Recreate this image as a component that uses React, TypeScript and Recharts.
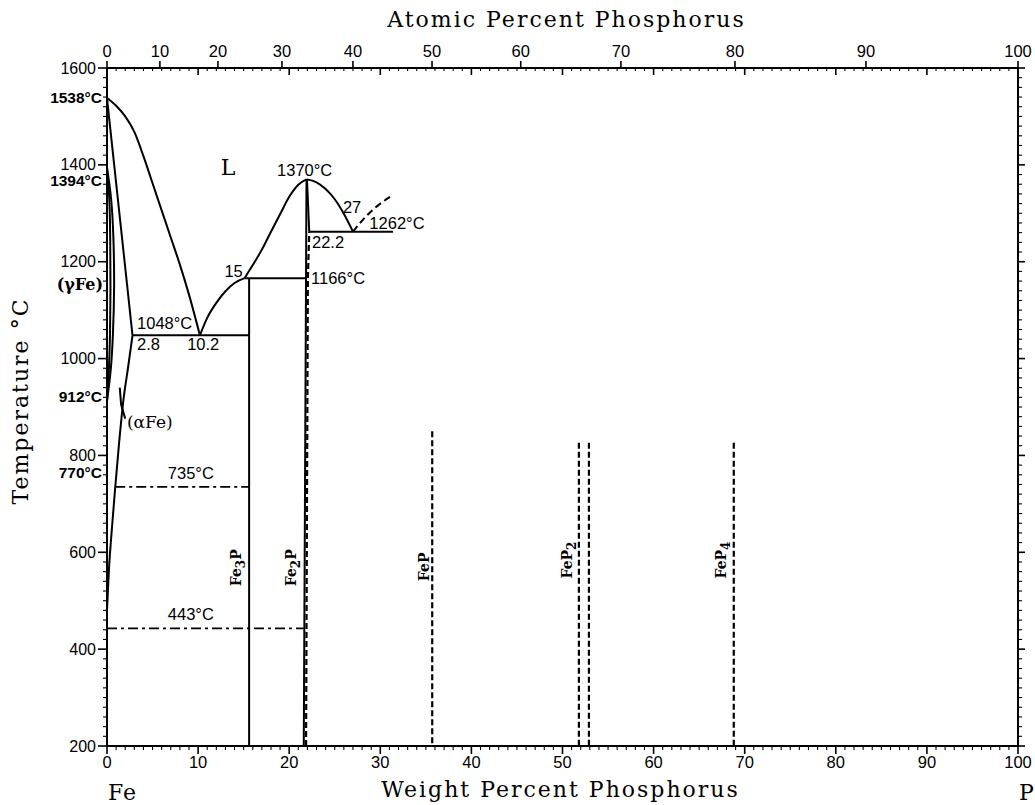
import React from 'react';
import { ComposedChart, Line, Scatter, XAxis, YAxis } from 'recharts';

// Fe-P phase diagram (wt% P, °C)
const LIQ_FE = [[0, 1538], [1, 1522], [2, 1500], [3, 1468], [4, 1418], [5, 1362], [6, 1306], [7, 1250], [8, 1194], [9, 1132], [10.2, 1048]];
const SOL_ALPHA = [[0, 1538], [2.8, 1048]];
const SOLVUS_ALPHA = [[0, 480], [0.2, 560], [0.5, 640], [0.88, 729], [1.3, 820], [1.8, 914], [2.3, 980], [2.8, 1048]];
const GAMMA_IN = [[0, 1394], [0.25, 1330], [0.35, 1250], [0.38, 1150], [0.33, 1050], [0.2, 975], [0, 912]];
const GAMMA_OUT = [[0, 1394], [0.45, 1330], [0.7, 1250], [0.78, 1150], [0.65, 1050], [0.4, 975], [0, 912]];
const LIQ_FE3P = [[10.2, 1048], [11, 1084], [12, 1115], [13, 1139], [14, 1156], [15.1, 1166]];
const LIQ_FE2P_L = [[15.1, 1166], [16, 1193], [17, 1225], [18, 1262], [19, 1298], [20, 1334], [21, 1359], [21.9, 1370]];
const LIQ_FE2P_R = [[21.9, 1370], [23, 1364], [24, 1350], [25, 1329], [26, 1299], [27, 1262]];
const LIQ_META = [[27, 1262], [28.5, 1295], [30, 1320], [31.4, 1338]];
const FE2P_L = [[21.9, 1370], [21.6, 200]];
const FE2P_R_TOP = [[21.95, 1370], [22.2, 1262]];
const FE2P_R_DASH = [[21.85, 200], [22.05, 1166], [22.2, 1262]];
const ISO_1262 = [[22.2, 1262], [31.4, 1262]];
const ISO_1166 = [[15.1, 1166], [21.85, 1166]];
const ISO_1048 = [[2.8, 1048], [15.6, 1048]];
const FE3P = [[15.6, 1166], [15.6, 200]];
const ISO_735 = [[0.9, 735], [15.6, 735]];
const ISO_443 = [[0, 443], [21.6, 443]];
const FEP = [[35.7, 850], [35.7, 200]];
const FEP2_A = [[51.8, 826], [51.8, 200]];
const FEP2_B = [[52.9, 826], [52.9, 200]];
const FEP4 = [[68.8, 826], [68.8, 200]];
const ALPHA_LEADER = [[1.4, 940], [1.55, 905], [2.0, 876]];

const SOLID_CURVES = [LIQ_FE, LIQ_FE3P, LIQ_FE2P_L, LIQ_FE2P_R, SOLVUS_ALPHA, GAMMA_IN, GAMMA_OUT];
const SOLID_SEGMENTS = [SOL_ALPHA, FE2P_L, FE2P_R_TOP, ISO_1262, ISO_1166, ISO_1048, FE3P, ALPHA_LEADER];
const DASHED_SEGMENTS = [FE2P_R_DASH, FEP, FEP2_A, FEP2_B, FEP4];
const DASHDOT_SEGMENTS = [ISO_735, ISO_443];

// tick labels
const WT_LABELS = [0, 10, 20, 30, 40, 50, 60, 70, 80, 90, 100];
const AT_LABELS = [0, 10, 20, 30, 40, 50, 60, 70, 80, 90, 100];
const T_LABELS = [200, 400, 600, 800, 1000, 1200, 1400, 1600];

// annotations (anchor in wt% / °C)
const AXIS_TEMPS = [
  { w: 0, t: 1538, text: '1538°C' },
  { w: 0, t: 1367, text: '1394°C' },
  { w: 0, t: 922, text: '912°C' },
  { w: 0, t: 765, text: '770°C' },
];
const GAMMA_NOTE = [{ w: 0, t: 1154, text: '(γFe)' }];
const START_NOTES = [
  { w: 3.3, t: 1073, text: '1048°C' },
  { w: 3.3, t: 1030, text: '2.8' },
  { w: 8.8, t: 1030, text: '10.2' },
  { w: 22.4, t: 1166, text: '1166°C' },
  { w: 22.5, t: 1241, text: '22.2' },
  { w: 28.8, t: 1280, text: '1262°C' },
  { w: 25.9, t: 1313, text: '27' },
];
const END_NOTES = [{ w: 14.9, t: 1181, text: '15' }];
const MID_NOTES = [
  { w: 21.7, t: 1389, text: '1370°C' },
  { w: 9.2, t: 764, text: '735°C' },
  { w: 9.2, t: 473, text: '443°C' },
];
const PHASE_NOTES = [
  { w: 13.3, t: 1394, text: 'L' },
  { w: 4.7, t: 869, text: '(αFe)' },
];
const COMPOUNDS = [
  { w: 14.7, t: 568, text: 'Fe_3P' },
  { w: 20.8, t: 568, text: 'Fe_2P' },
  { w: 35.3, t: 570, text: 'FeP' },
  { w: 51.0, t: 584, text: 'FeP_2' },
  { w: 68.0, t: 584, text: 'FeP_4' },
];

const M_FE = 55.845;
const M_P = 30.974;
const atToWt = (a: number) => (100 * a * M_P) / (a * M_P + (100 - a) * M_FE);
const AT_POS = AT_LABELS.map(atToWt);

const range = (a: number, b: number, s: number) => {
  const out: number[] = [];
  for (let v = a; v <= b + 1e-9; v += s) out.push(v);
  return out;
};
const WT_TICKS = range(0, 100, 1);
const TOP_TICKS = Array.from(new Set([...WT_TICKS, ...AT_POS])).sort((a, b) => a - b);
const T_TICKS = range(200, 1600, 20);

const pts = (arr: number[][]) => arr.map(([w, t]) => ({ w, t }));

const SANS = '"Liberation Sans", Arial, sans-serif';
const SERIF = '"DejaVu Serif", serif';

function BottomTick(p: any) {
  const v = p.payload.value;
  const major = WT_LABELS.includes(v);
  return (
    <g>
      <line x1={p.x} x2={p.x} y1={p.y} y2={p.y + (major ? 8 : 4)} stroke="#000" strokeWidth={major ? 1.6 : 1.1} />
      {major && (
        <text x={p.x} y={p.y + 16} dy="0.35em" textAnchor="middle" fontFamily={SANS} fontSize={16.5} fill="#000">{v}</text>
      )}
    </g>
  );
}

function TopTick(p: any) {
  const v = p.payload.value;
  const ai = AT_POS.findIndex((a) => Math.abs(a - v) < 1e-6);
  const isWt = Math.abs(v - Math.round(v)) < 1e-9;
  const wtMajor = isWt && Math.round(v) % 10 === 0;
  return (
    <g>
      {isWt && <line x1={p.x} x2={p.x} y1={p.y} y2={p.y + (wtMajor ? 7 : 3)} stroke="#000" strokeWidth={wtMajor ? 1.6 : 1.1} />}
      {ai >= 0 && (
        <>
          <line x1={p.x} x2={p.x} y1={p.y} y2={p.y - 7} stroke="#000" strokeWidth={1.6} />
          <text x={p.x} y={p.y - 17} dy="0.35em" textAnchor="middle" fontFamily={SANS} fontSize={16.5} fill="#000">{AT_LABELS[ai]}</text>
        </>
      )}
    </g>
  );
}

function LeftTick(p: any) {
  const v = p.payload.value;
  const major = T_LABELS.includes(v);
  return (
    <g>
      <line x1={p.x} x2={p.x - (major ? 9 : 4)} y1={p.y} y2={p.y} stroke="#000" strokeWidth={major ? 1.6 : 1.1} />
      {major && (
        <text x={p.x - 11} y={p.y} dy="0.35em" textAnchor="end" fontFamily={SANS} fontSize={16} fill="#000">{v}</text>
      )}
    </g>
  );
}

function RightTick(p: any) {
  const v = p.payload.value;
  const major = T_LABELS.includes(v);
  return <line x1={p.x} x2={p.x + (major ? 7 : 4)} y1={p.y} y2={p.y} stroke="#000" strokeWidth={major ? 1.6 : 1.1} />;
}

const textShape = (anchor: 'start' | 'middle' | 'end', dx: number, font: string, size: number, weight: any = 'normal') =>
  (p: any) => (
    <text x={p.cx + dx} y={p.cy} dy="0.35em" textAnchor={anchor} fontFamily={font} fontSize={size} fontWeight={weight} fill="#000">
      {p.payload.text}
    </text>
  );

function CompoundShape(p: any) {
  const parts = p.payload.text.split(/_(\d)/);
  return (
    <text
      x={p.cx}
      y={p.cy}
      textAnchor="middle"
      transform={`rotate(-90 ${p.cx} ${p.cy})`}
      fontFamily={SERIF}
      fontWeight="bold"
      fontSize={14}
      fill="#000"
    >
      {parts.map((s: string, i: number) =>
        i % 2 === 1 ? (
          <tspan key={i} dy={4} fontSize={12}>{s}</tspan>
        ) : (
          <tspan key={i} dy={i > 0 ? -4 : 0}>{s}</tspan>
        )
      )}
    </text>
  );
}

const axisLine = { stroke: '#000', strokeWidth: 2 };

export default function App() {
  return (
    <div style={{ position: 'absolute', left: 0, top: 0, background: '#fff' }}>
      <ComposedChart width={1035} height={805} margin={{ top: 0, right: 0, bottom: 0, left: 0 }}>
        <XAxis
          xAxisId="b"
          orientation="bottom"
          type="number"
          dataKey="w"
          domain={[0, 100]}
          ticks={WT_TICKS}
          interval={0}
          tickSize={0}
          tickMargin={0}
          tickLine={false}
          axisLine={axisLine}
          tick={BottomTick}
          height={59}
          label={(lp: any) => {
            const vb = lp.viewBox;
            return (
              <g fontFamily={SERIF} fontSize={22} fill="#000">
                <text x={vb.x + vb.width / 2 - 2} y={vb.y + 51} textAnchor="middle" letterSpacing={2}>Weight Percent Phosphorus</text>
                <text x={vb.x + 1} y={vb.y + 54} letterSpacing={1}>Fe</text>
                <text x={vb.x + vb.width + 1} y={vb.y + 54}>P</text>
              </g>
            );
          }}
        />
        <XAxis
          xAxisId="t"
          orientation="top"
          type="number"
          dataKey="w"
          domain={[0, 100]}
          ticks={TOP_TICKS}
          interval={0}
          tickSize={0}
          tickMargin={0}
          tickLine={false}
          axisLine={axisLine}
          tick={TopTick}
          height={68}
          label={(lp: any) => {
            const vb = lp.viewBox;
            return (
              <text x={vb.x + vb.width / 2 + 4} y={vb.y + 27} textAnchor="middle" fontFamily={SERIF} fontSize={22} letterSpacing={2} fill="#000">
                Atomic Percent Phosphorus
              </text>
            );
          }}
        />
        <YAxis
          yAxisId="l"
          orientation="left"
          type="number"
          domain={[200, 1600]}
          ticks={T_TICKS}
          interval={0}
          tickSize={0}
          tickMargin={0}
          tickLine={false}
          axisLine={axisLine}
          tick={LeftTick}
          width={107}
          label={(lp: any) => {
            const vb = lp.viewBox;
            const cx = vb.x + 28;
            const cy = vb.y + vb.height / 2 - 6;
            return (
              <text x={cx} y={cy} textAnchor="middle" transform={`rotate(-90 ${cx} ${cy})`} fontFamily={SERIF} fontSize={22} letterSpacing={2} fill="#000">
                Temperature °C
              </text>
            );
          }}
        />
        <YAxis
          yAxisId="r"
          orientation="right"
          type="number"
          domain={[200, 1600]}
          ticks={T_TICKS}
          interval={0}
          tickSize={0}
          tickMargin={0}
          tickLine={false}
          axisLine={axisLine}
          tick={RightTick}
          width={17}
        />

        {SOLID_CURVES.map((c, i) => (
          <Line
            key={`c${i}`}
            xAxisId="b"
            yAxisId="l"
            data={pts(c)}
            dataKey="t"
            type={c === GAMMA_IN || c === GAMMA_OUT ? 'natural' : 'monotone'}
            stroke="#000"
            strokeWidth={2}
            dot={false}
            activeDot={false}
            isAnimationActive={false}
          />
        ))}
        {SOLID_SEGMENTS.map((c, i) => (
          <Line key={`s${i}`} xAxisId="b" yAxisId="l" data={pts(c)} dataKey="t" type="linear" stroke="#000" strokeWidth={2} dot={false} activeDot={false} isAnimationActive={false} />
        ))}
        <Line xAxisId="b" yAxisId="l" data={pts(LIQ_META)} dataKey="t" type="monotone" stroke="#000" strokeWidth={2} strokeDasharray="7 4" dot={false} activeDot={false} isAnimationActive={false} />
        {/* the dashed compound lines share scales with the top/right axes, so those axes get their ticks */}
        {DASHED_SEGMENTS.map((c, i) => (
          <Line key={`d${i}`} xAxisId="t" yAxisId="r" data={pts(c)} dataKey="t" type="linear" stroke="#000" strokeWidth={2.2} strokeDasharray="6 3" dot={false} activeDot={false} isAnimationActive={false} />
        ))}
        {DASHDOT_SEGMENTS.map((c, i) => (
          <Line key={`dd${i}`} xAxisId="b" yAxisId="l" data={pts(c)} dataKey="t" type="linear" stroke="#000" strokeWidth={1.8} strokeDasharray="10 4 3 4" dot={false} activeDot={false} isAnimationActive={false} />
        ))}

        <Scatter xAxisId="b" yAxisId="l" data={AXIS_TEMPS} dataKey="t" isAnimationActive={false} shape={textShape('end', -5, SANS, 15.5, 'bold')} />
        <Scatter xAxisId="b" yAxisId="l" data={GAMMA_NOTE} dataKey="t" isAnimationActive={false} shape={textShape('end', -4, SERIF, 16, 'bold')} />
        <Scatter xAxisId="b" yAxisId="l" data={START_NOTES} dataKey="t" isAnimationActive={false} shape={textShape('start', 0, SANS, 16.5)} />
        <Scatter xAxisId="b" yAxisId="l" data={END_NOTES} dataKey="t" isAnimationActive={false} shape={textShape('end', 0, SANS, 16.5)} />
        <Scatter xAxisId="b" yAxisId="l" data={MID_NOTES} dataKey="t" isAnimationActive={false} shape={textShape('middle', 0, SANS, 16.5)} />
        <Scatter xAxisId="b" yAxisId="l" data={PHASE_NOTES.slice(0, 1)} dataKey="t" isAnimationActive={false} shape={textShape('middle', 0, SERIF, 22)} />
        <Scatter xAxisId="b" yAxisId="l" data={PHASE_NOTES.slice(1)} dataKey="t" isAnimationActive={false} shape={textShape('middle', 0, SERIF, 17)} />
        <Scatter xAxisId="b" yAxisId="l" data={COMPOUNDS} dataKey="t" isAnimationActive={false} shape={CompoundShape} />
      </ComposedChart>
    </div>
  );
}
